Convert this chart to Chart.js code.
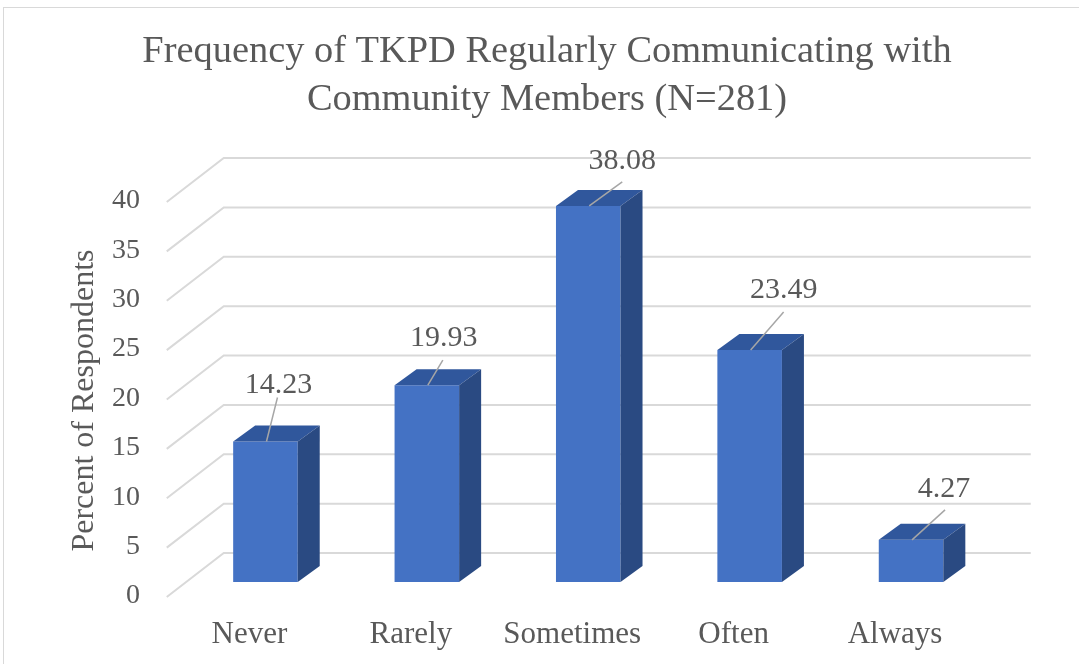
<!DOCTYPE html>
<html>
<head>
<meta charset="utf-8">
<script src="https://cdn.jsdelivr.net/npm/chart.js@4/dist/chart.umd.min.js"></script>
<style>
  body { margin: 0; background: #fff; }
  canvas { display: block; }
</style>
</head>
<body>
<canvas id="freqChart" width="1079" height="664"></canvas>
<script>
const categories = ['Never', 'Rarely', 'Sometimes', 'Often', 'Always'];
const percentValues = [14.23, 19.93, 38.08, 23.49, 4.27];
const yTicks = [0, 5, 10, 15, 20, 25, 30, 35, 40];

const textGrey = '#595959';
const gridGrey = '#D9D9D9';
const serif = "'Liberation Serif', 'Times New Roman', serif";
const frontColor = '#4472C4';
const topColor = '#30579C';
const sideColor = '#2A4A82';

// fake 3D: back wall offset from the bar plane, floor depth, bar depth
const wall = { dx: 39, dy: 29, floorDx: 57, floorDy: 44 };
const depth = { dx: 22, dy: 16 };
// leader line ends and label centres, relative to the top of each bar
const leaderEnds = [[11, -44], [15, -25], [33, -24], [33, -38], [33, -30]];
const labelCenters = [[12, -56], [16, -47], [33, -45], [33, -60], [32, -51]];

function fillPoly(ctx, pts) {
  ctx.beginPath();
  ctx.moveTo(pts[0][0], pts[0][1]);
  for (let i = 1; i < pts.length; i++) ctx.lineTo(pts[i][0], pts[i][1]);
  ctx.closePath();
  ctx.fill();
}

const bars3d = {
  id: 'bars3d',
  beforeDraw(chart) {
    const ctx = chart.ctx;
    ctx.save();
    ctx.strokeStyle = gridGrey;
    ctx.lineWidth = 1;
    ctx.strokeRect(3.5, 7.5, chart.width + 20, chart.height + 20);
    ctx.restore();
  },
  beforeDatasetsDraw(chart) {
    const { ctx, chartArea, scales: { y } } = chart;
    ctx.save();
    ctx.strokeStyle = gridGrey;
    ctx.lineWidth = 2;
    y.ticks.forEach(t => {
      const yb = y.getPixelForValue(t.value) - wall.dy;
      const xl = chartArea.left + wall.dx;
      ctx.beginPath();
      ctx.moveTo(xl - wall.floorDx, yb + wall.floorDy);
      ctx.lineTo(xl, yb);
      ctx.lineTo(chartArea.right + wall.dx, yb);
      ctx.stroke();
    });
    ctx.restore();
  },
  afterDatasetsDraw(chart) {
    const ctx = chart.ctx;
    const meta = chart.getDatasetMeta(0);
    ctx.save();
    meta.data.forEach((bar, i) => {
      const { x, y, base, width } = bar.getProps(['x', 'y', 'base', 'width'], true);
      const l = x - width / 2, r = x + width / 2;
      ctx.fillStyle = topColor;
      fillPoly(ctx, [[l, y], [r, y], [r + depth.dx, y - depth.dy], [l + depth.dx, y - depth.dy]]);
      ctx.fillStyle = sideColor;
      fillPoly(ctx, [[r, y], [r + depth.dx, y - depth.dy], [r + depth.dx, base - depth.dy], [r, base]]);

      // leader line + value label
      ctx.strokeStyle = '#A6A6A6';
      ctx.lineWidth = 1.5;
      ctx.beginPath();
      ctx.moveTo(x + 1, y);
      ctx.lineTo(x + 1 + leaderEnds[i][0], y + leaderEnds[i][1]);
      ctx.stroke();
      ctx.fillStyle = textGrey;
      ctx.font = '30px ' + serif;
      ctx.textAlign = 'center';
      ctx.textBaseline = 'middle';
      ctx.fillText(percentValues[i].toFixed(2), x + 1 + labelCenters[i][0], y + labelCenters[i][1]);
    });
    ctx.restore();
  }
};

const ctx = document.getElementById('freqChart').getContext('2d');
const freqChart = new Chart(ctx, {
  type: 'bar',
  data: {
    labels: categories,
    datasets: [{
      data: percentValues,
      backgroundColor: frontColor,
      borderWidth: 0,
      categoryPercentage: 1,
      barPercentage: 0.4
    }]
  },
  options: {
    responsive: false,
    animation: false,
    layout: { padding: { left: 15, right: 0, top: 0, bottom: 0 } },
    plugins: {
      legend: { display: false },
      tooltip: { enabled: false },
      title: {
        display: true,
        text: ['Frequency of TKPD Regularly Communicating with', 'Community Members (N=281)'],
        color: textGrey,
        font: { family: serif, size: 38.4, weight: 'normal', lineHeight: 1.25 },
        padding: { top: 28, bottom: 63 }
      }
    },
    scales: {
      x: {
        grid: { display: false, drawTicks: false },
        border: { display: false },
        ticks: { color: textGrey, font: { family: serif, size: 31 }, padding: 34, labelOffset: -16 },
        afterFit: s => { s.height = 82; }
      },
      y: {
        min: yTicks[0],
        max: yTicks[yTicks.length - 1],
        grid: { display: false, drawTicks: false },
        border: { display: false },
        ticks: {
          stepSize: yTicks[1] - yTicks[0],
          color: textGrey,
          font: { family: serif, size: 28 },
          padding: 44.75,
          labelOffset: 14
        },
        title: {
          display: true,
          // trailing spaces nudge the visible text down a little
          text: 'Percent of Respondents    ',
          color: textGrey,
          font: { family: serif, size: 32, weight: 'normal' },
          padding: { top: 50, bottom: 0 }
        },
        afterFit: s => { s.width = 169.75; }
      },
      // empty right-hand axis, only reserves room for the back wall
      yRight: {
        position: 'right',
        display: true,
        grid: { display: false, drawTicks: false },
        border: { display: false },
        ticks: { display: false },
        afterFit: s => { s.width = 87.25; }
      }
    }
  },
  plugins: [bars3d]
});
</script>
</body>
</html>
